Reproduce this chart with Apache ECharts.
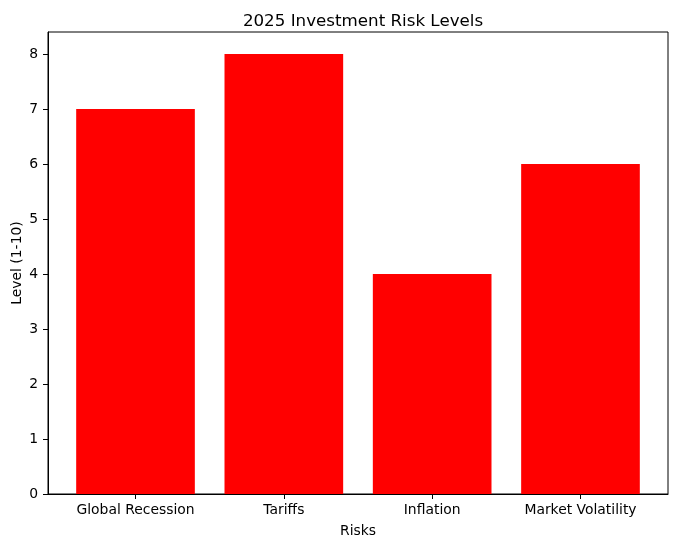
<!DOCTYPE html>
<html>
<head>
<meta charset="utf-8">
<script src="https://cdn.jsdelivr.net/npm/echarts@6/dist/echarts.min.js"></script>
<style>html,body{margin:0;padding:0;background:#fff}#c{width:678px;height:547px}</style>
</head>
<body>
<div id="c"></div>
<script>
const categories = ["Global Recession", "Tariffs", "Inflation", "Market Volatility"];
const values = [7, 8, 4, 6];
const yTicks = [0, 1, 2, 3, 4, 5, 6, 7, 8];

const FONT = "DejaVu Sans";
const chart = echarts.init(document.getElementById('c'), null, {renderer: 'canvas'});
const gridLeft = 48, gridRight = 10, gridTop = 32, gridBottom = 53;
const plotW = 678 - gridLeft - gridRight;
const xMin = -0.59, xMax = categories.length - 1 + 0.59;
const barPx = plotW * 0.8 / (xMax - xMin);

chart.setOption({
  animation: false,
  backgroundColor: '#ffffff',
  title: {
    text: '2025 Investment Risk Levels',
    left: gridLeft + plotW / 2, textAlign: 'center', top: 8,
    textStyle: {fontFamily: FONT, fontSize: 16.7, fontWeight: 'normal', color: '#000'}
  },
  grid: {left: gridLeft, right: gridRight, top: gridTop, bottom: gridBottom, containLabel: false, outerBoundsMode: 'none', show: true, borderColor: '#000', borderWidth: 1},
  xAxis: {
    type: 'value', min: xMin, max: xMax,
    name: 'Risks', nameLocation: 'middle', nameGap: 30, nameMoveOverlap: false,
    nameTextStyle: {fontFamily: FONT, fontSize: 13.9, color: '#000'},
    axisLine: {show: true, onZero: false, lineStyle: {color: '#000', width: 1}},
    axisTick: {show: true, length: 5, lineStyle: {color: '#000'}, customValues: categories.map((c, i) => i)},
    axisLabel: {
      fontFamily: FONT, fontSize: 13.9, color: '#000', margin: 9,
      customValues: categories.map((c, i) => i),
      formatter: v => categories[Math.round(v)] ?? ''
    },
    splitLine: {show: false}
  },
  yAxis: {
    type: 'value', min: 0, max: 8.4, interval: 1,
    name: 'Level (1-10)', nameLocation: 'middle', nameGap: 24, nameRotate: 90, nameMoveOverlap: false,
    nameTextStyle: {fontFamily: FONT, fontSize: 13.9, color: '#000'},
    axisLine: {show: true, onZero: false, lineStyle: {color: '#000', width: 1}},
    axisTick: {show: true, length: 5, lineStyle: {color: '#000'}, customValues: yTicks},
    axisLabel: {fontFamily: FONT, fontSize: 13.9, color: '#000', margin: 10, customValues: yTicks},
    splitLine: {show: false}
  },
  series: [{
    type: 'bar',
    data: values.map((v, i) => [i, v]),
    barWidth: barPx,
    itemStyle: {color: '#ff0000'}
  }]
});
</script>
</body>
</html>
